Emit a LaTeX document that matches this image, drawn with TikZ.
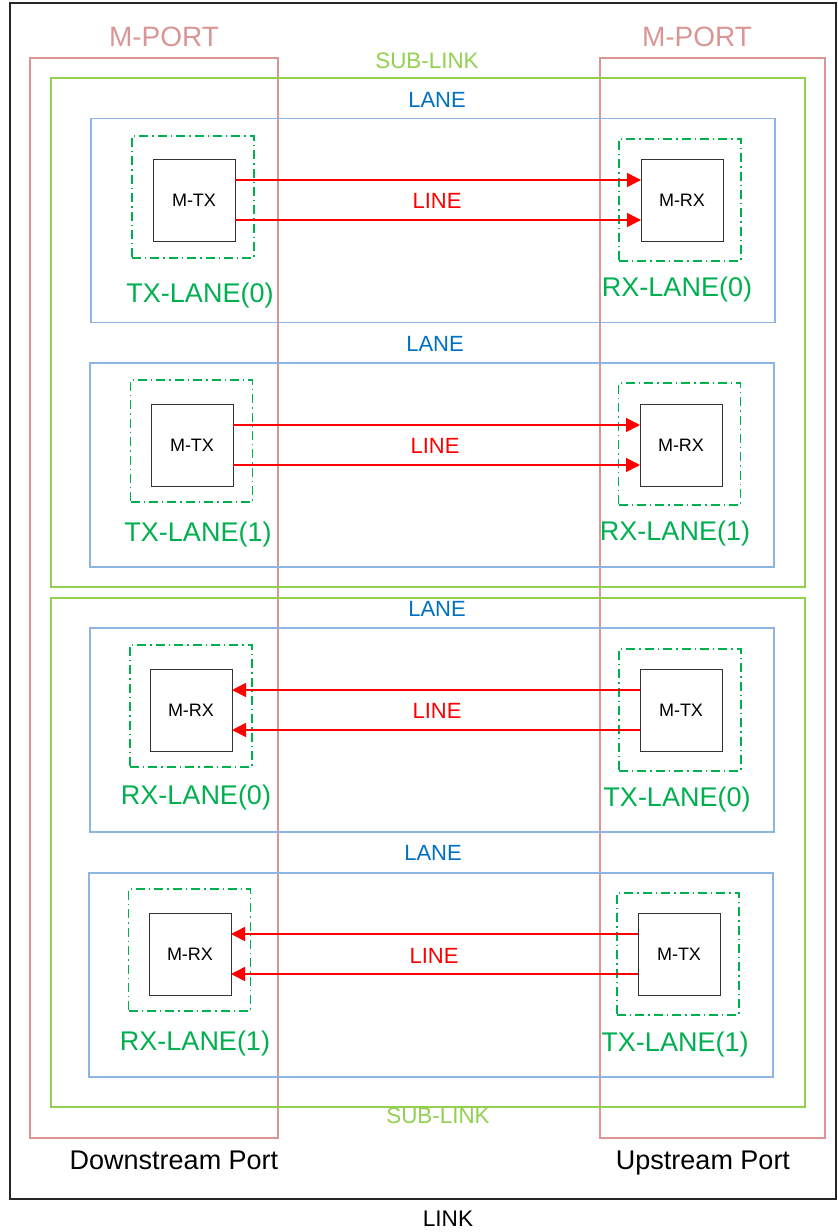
\documentclass[tikz,border=0pt]{standalone}
\usepackage{fontspec}
\setmainfont{Liberation Sans}
\usepackage{tikz}
\usetikzlibrary{arrows.meta, positioning}

\definecolor{portred}{HTML}{D99694}
\definecolor{subgreen}{HTML}{92D050}
\definecolor{laneblue}{HTML}{8EB4E3}
\definecolor{lanetext}{HTML}{0070C0}
\definecolor{lanegreen}{HTML}{00B050}

\begin{document}
\begin{tikzpicture}[
    x=0.5pt, y=-0.5pt,
    frame/.style={inner sep=0pt, outer sep=0pt},
    linkbox/.style={frame, draw=black!85, line width=0.9pt},
    portbox/.style={frame, draw=portred, line width=0.6pt},
    subbox/.style={frame, draw=subgreen, line width=0.6pt, minimum width=377pt, minimum height=254.5pt},
    lanebox/.style={frame, draw=laneblue, line width=0.6pt, minimum width=342pt, minimum height=102pt},
    lanedash/.style={frame, draw=lanegreen, line width=0.7pt, dash pattern=on 4.5pt off 2pt on 0.7pt off 2pt, minimum size=61pt},
    unit/.style={frame, draw=black!80, fill=white, line width=0.5pt, minimum size=41pt, font=\fontsize{9}{10}\selectfont},
    line/.style={draw=red, line width=0.8pt, -{Triangle[length=7pt, width=7pt]}},
    porttext/.style={text=portred, font=\fontsize{14}{16}\selectfont},
    subtext/.style={text=subgreen, font=\fontsize{11.2}{13}\selectfont},
    lanetitle/.style={text=lanetext, font=\fontsize{11}{13}\selectfont},
    linetext/.style={text=red, font=\fontsize{11}{13}\selectfont},
    lanelbl/.style={text=lanegreen, font=\fontsize{13.5}{15}\selectfont},
    blacktext/.style={font=\fontsize{13.5}{15}\selectfont}
]
    \useasboundingbox (0,0) rectangle (838,1232);

    % Link and ports
    \node[linkbox, minimum width=413pt, minimum height=598pt] (link) at (423,601) {};
    \node[font=\fontsize{11.3}{13}\selectfont] (linklbl) at (448,1219) {LINK};
    \node[portbox, minimum width=124pt, minimum height=540pt] (dport) at (154,598) {};
    \node[portbox, minimum width=112.5pt, minimum height=540pt] (uport) at (712.5,598) {};
    \node[porttext] (dportlbl) at (164,37) {M-PORT};
    \node[porttext] (uportlbl) at (697,37) {M-PORT};
    \node[blacktext, anchor=base] (down) at (174,1169) {Downstream Port};
    \node[blacktext, anchor=base] (up) at (703,1169) {Upstream Port};

    % Sub-links
    \node[subbox] (sub0) at (428,332.5) {};
    \node[subbox] (sub1) at (428,852.5) {};
    \node[subtext] (sub0lbl) at (427,61) {SUB-LINK};
    \node[subtext] (sub1lbl) at (438,1116) {SUB-LINK};

    % Lane 0
    \node[lanebox] (lane0) at (433,220.5) {};
    \node[lanetitle] (lane0lbl) at (437,100) {LANE};
    \node[lanedash] (txd0) at (193,197) {};
    \node[lanedash] (rxd0) at (680,200) {};
    \node[unit] (tx0) at (194,200) {M-TX};
    \node[unit] (rx0) at (682,200) {M-RX};
    \node[lanelbl] (txl0) at (200,296) {TX-LANE(0)};
    \node[lanelbl] (rxl0) at (677,290) {RX-LANE(0)};
    \draw[line] ([yshift=10pt]tx0.east) -- ([yshift=10pt]rx0.west);
    \draw[line] ([yshift=-10pt]tx0.east) -- ([yshift=-10pt]rx0.west);
    \node[linetext] (line0) at (437,201) {LINE};

    % Lane 1
    \node[lanebox] (lane1) at (432,465) {};
    \node[lanetitle] (lane1lbl) at (435,344) {LANE};
    \node[lanedash] (txd1) at (191.5,441) {};
    \node[lanedash] (rxd1) at (679.5,444) {};
    \node[unit] (tx1) at (192,445) {M-TX};
    \node[unit] (rx1) at (681,445) {M-RX};
    \node[lanelbl] (txl1) at (198,535) {TX-LANE(1)};
    \node[lanelbl] (rxl1) at (675,534) {RX-LANE(1)};
    \draw[line] ([yshift=10pt]tx1.east) -- ([yshift=10pt]rx1.west);
    \draw[line] ([yshift=-10pt]tx1.east) -- ([yshift=-10pt]rx1.west);
    \node[linetext] (line1) at (435,446) {LINE};

    % Lane 2
    \node[lanebox] (lane2) at (432,730) {};
    \node[lanetitle] (lane2lbl) at (437,609) {LANE};
    \node[lanedash] (rxd2) at (191,706) {};
    \node[lanedash] (txd2) at (680,710) {};
    \node[unit] (rx2) at (191,710) {M-RX};
    \node[unit] (tx2) at (681,710) {M-TX};
    \node[lanelbl] (rxl2) at (196,798) {RX-LANE(0)};
    \node[lanelbl] (txl2) at (677,800) {TX-LANE(0)};
    \draw[line] ([yshift=10pt]tx2.west) -- ([yshift=10pt]rx2.east);
    \draw[line] ([yshift=-10pt]tx2.west) -- ([yshift=-10pt]rx2.east);
    \node[linetext] (line2) at (437,711) {LINE};

    % Lane 3
    \node[lanebox] (lane3) at (431,975) {};
    \node[lanetitle] (lane3lbl) at (433,853) {LANE};
    \node[lanedash] (rxd3) at (189.5,950) {};
    \node[lanedash] (txd3) at (678,954) {};
    \node[unit] (rx3) at (190,954) {M-RX};
    \node[unit] (tx3) at (679,954) {M-TX};
    \node[lanelbl] (rxl3) at (195,1043) {RX-LANE(1)};
    \node[lanelbl] (txl3) at (675,1044) {TX-LANE(1)};
    \draw[line] ([yshift=10pt]tx3.west) -- ([yshift=10pt]rx3.east);
    \draw[line] ([yshift=-10pt]tx3.west) -- ([yshift=-10pt]rx3.east);
    \node[linetext] (line3) at (434,956) {LINE};

\end{tikzpicture}
\end{document}
